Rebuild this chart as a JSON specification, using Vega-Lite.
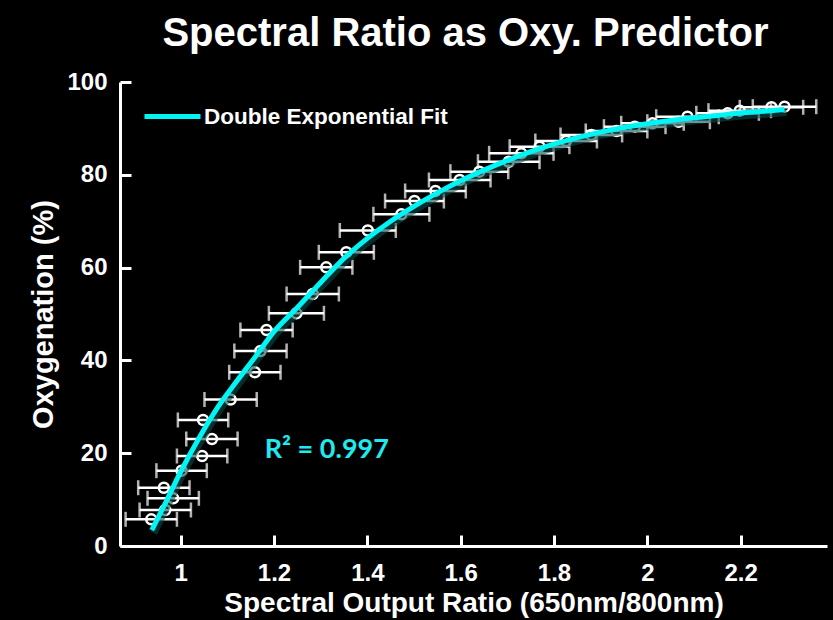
{
  "$schema": "https://vega.github.io/schema/vega-lite/v6.json",
  "width": 707,
  "height": 464,
  "autosize": {"type": "none"},
  "padding": {"left": 120, "top": 82, "right": 6, "bottom": 74},
  "background": "black",
  "config": {"view": {"stroke": null}, "font": "Liberation Sans"},
  "title": {
    "text": "Spectral Ratio as Oxy. Predictor",
    "color": "white",
    "fontSize": 40,
    "fontWeight": "bold",
    "font": "Liberation Sans",
    "anchor": "middle",
    "frame": "group",
    "baseline": "alphabetic",
    "offset": -16,
    "dx": -8
  },
  "datasets": {
    "pts": [
      {"x": 0.937, "y": 5.75, "xerr": 0.055},
      {"x": 0.967, "y": 7.76, "xerr": 0.055},
      {"x": 0.984, "y": 10.28, "xerr": 0.055},
      {"x": 0.964, "y": 12.56, "xerr": 0.055},
      {"x": 1.002, "y": 16.23, "xerr": 0.054},
      {"x": 1.046, "y": 19.4, "xerr": 0.054},
      {"x": 1.067, "y": 23.06, "xerr": 0.055},
      {"x": 1.048, "y": 27.16, "xerr": 0.054},
      {"x": 1.107, "y": 31.57, "xerr": 0.056},
      {"x": 1.159, "y": 37.44, "xerr": 0.055},
      {"x": 1.171, "y": 42.03, "xerr": 0.056},
      {"x": 1.184, "y": 46.55, "xerr": 0.056},
      {"x": 1.248, "y": 50.15, "xerr": 0.059},
      {"x": 1.283, "y": 54.31, "xerr": 0.056},
      {"x": 1.312, "y": 60.06, "xerr": 0.056},
      {"x": 1.355, "y": 63.3, "xerr": 0.059},
      {"x": 1.401, "y": 68.0, "xerr": 0.06},
      {"x": 1.473, "y": 71.49, "xerr": 0.06},
      {"x": 1.501, "y": 74.35, "xerr": 0.063},
      {"x": 1.546, "y": 76.51, "xerr": 0.065},
      {"x": 1.598, "y": 78.88, "xerr": 0.066},
      {"x": 1.64, "y": 80.67, "xerr": 0.062},
      {"x": 1.703, "y": 82.82, "xerr": 0.066},
      {"x": 1.73, "y": 84.63, "xerr": 0.069},
      {"x": 1.769, "y": 86.06, "xerr": 0.064},
      {"x": 1.826, "y": 87.28, "xerr": 0.066},
      {"x": 1.88, "y": 88.58, "xerr": 0.066},
      {"x": 1.934, "y": 89.44, "xerr": 0.066},
      {"x": 1.973, "y": 90.37, "xerr": 0.066},
      {"x": 2.011, "y": 91.1, "xerr": 0.067},
      {"x": 2.067, "y": 91.44, "xerr": 0.067},
      {"x": 2.086, "y": 92.52, "xerr": 0.067},
      {"x": 2.172, "y": 93.25, "xerr": 0.067},
      {"x": 2.198, "y": 93.82, "xerr": 0.067},
      {"x": 2.266, "y": 94.55, "xerr": 0.068},
      {"x": 2.294, "y": 94.68, "xerr": 0.068}
    ],
    "fit": [
      {"x": 0.938, "y": 3.4},
      {"x": 0.97, "y": 9.8},
      {"x": 1.0, "y": 16.0},
      {"x": 1.04, "y": 23.4},
      {"x": 1.08, "y": 30.0},
      {"x": 1.12, "y": 35.5},
      {"x": 1.16, "y": 40.8},
      {"x": 1.2, "y": 46.2},
      {"x": 1.25, "y": 51.4},
      {"x": 1.3, "y": 56.8},
      {"x": 1.35, "y": 62.0},
      {"x": 1.4, "y": 66.3},
      {"x": 1.45, "y": 70.0},
      {"x": 1.5, "y": 73.2},
      {"x": 1.55, "y": 76.1},
      {"x": 1.6, "y": 78.7},
      {"x": 1.65, "y": 81.0},
      {"x": 1.7, "y": 83.1},
      {"x": 1.75, "y": 85.0},
      {"x": 1.8, "y": 86.6},
      {"x": 1.85, "y": 88.0},
      {"x": 1.9, "y": 89.2},
      {"x": 1.95, "y": 90.2},
      {"x": 2.0, "y": 91.0},
      {"x": 2.05, "y": 91.7},
      {"x": 2.1, "y": 92.3},
      {"x": 2.15, "y": 92.8},
      {"x": 2.2, "y": 93.3},
      {"x": 2.25, "y": 93.7},
      {"x": 2.294, "y": 94.1}
    ],
    "note": [
      {"x": 1.18, "y": 19.0, "label": "R² = 0.997"}
    ]
  },
  "encoding": {
    "x": {
      "field": "x",
      "type": "quantitative",
      "scale": {"domain": [0.87, 2.385], "nice": false, "zero": false},
      "axis": {
        "values": [1, 1.2, 1.4, 1.6, 1.8, 2, 2.2],
        "format": "~g",
        "title": "Spectral Output Ratio (650nm/800nm)",
        "grid": false,
        "domainColor": "white",
        "domainWidth": 3,
        "tickColor": "white",
        "tickWidth": 3,
        "tickSize": -11,
        "labelPadding": 26,
        "labelColor": "white",
        "labelFont": "Liberation Sans",
        "labelFontSize": 24,
        "labelFontWeight": "bold",
        "titleColor": "white",
        "titleFont": "Liberation Sans",
        "titleFontSize": 28,
        "titleFontWeight": "bold",
        "titlePadding": 4
      }
    },
    "y": {
      "field": "y",
      "type": "quantitative",
      "scale": {"domain": [0, 100], "nice": false},
      "axis": {
        "values": [0, 20, 40, 60, 80, 100],
        "title": "Oxygenation (%)",
        "grid": false,
        "domainColor": "white",
        "domainWidth": 3,
        "tickColor": "white",
        "tickWidth": 3,
        "tickSize": -11,
        "labelPadding": 24,
        "labelColor": "white",
        "labelFont": "Liberation Sans",
        "labelFontSize": 24,
        "labelFontWeight": "bold",
        "titleColor": "white",
        "titleFont": "Liberation Sans",
        "titleFontSize": 29,
        "titleFontWeight": "bold",
        "titlePadding": 8
      }
    }
  },
  "layer": [
    {
      "data": {"name": "pts"},
      "mark": {
        "type": "errorbar",
        "ticks": {"size": 15, "thickness": 2.5, "color": "white"},
        "rule": {"strokeWidth": 2.5, "color": "white"}
      },
      "encoding": {
        "xError": {"field": "xerr"}
      }
    },
    {
      "data": {"name": "pts"},
      "mark": {"type": "point", "shape": "circle", "filled": false, "color": "white", "strokeWidth": 2.5, "size": 100, "opacity": 1}
    },
    {
      "data": {"name": "fit"},
      "mark": {"type": "line", "interpolate": "monotone", "color": "#0c4a4a", "strokeWidth": 7, "opacity": 0.6, "xOffset": 2, "yOffset": 3},
      "encoding": {}
    },
    {
      "data": {"name": "fit"},
      "mark": {"type": "line", "interpolate": "monotone", "strokeWidth": 5},
      "encoding": {
        "color": {
          "datum": "Double Exponential Fit",
          "type": "nominal",
          "scale": {"range": ["#00F5F5"]},
          "legend": {
            "orient": "none",
            "legendX": 22,
            "legendY": 4,
            "title": null,
            "symbolType": "stroke",
            "symbolSize": 3136,
            "symbolStrokeWidth": 5,
            "labelColor": "white",
            "labelFont": "Liberation Sans",
            "labelFontSize": 22.5,
            "labelFontWeight": "bold",
            "labelOffset": 1,
            "labelLimit": 500,
            "padding": 0
          }
        }
      }
    },
    {
      "data": {"name": "note"},
      "mark": {"type": "text", "align": "left", "baseline": "alphabetic", "font": "Lato", "fontSize": 27, "fontWeight": "bold", "color": "#1EEAF0"},
      "encoding": {
        "text": {"field": "label"}
      }
    }
  ]
}
